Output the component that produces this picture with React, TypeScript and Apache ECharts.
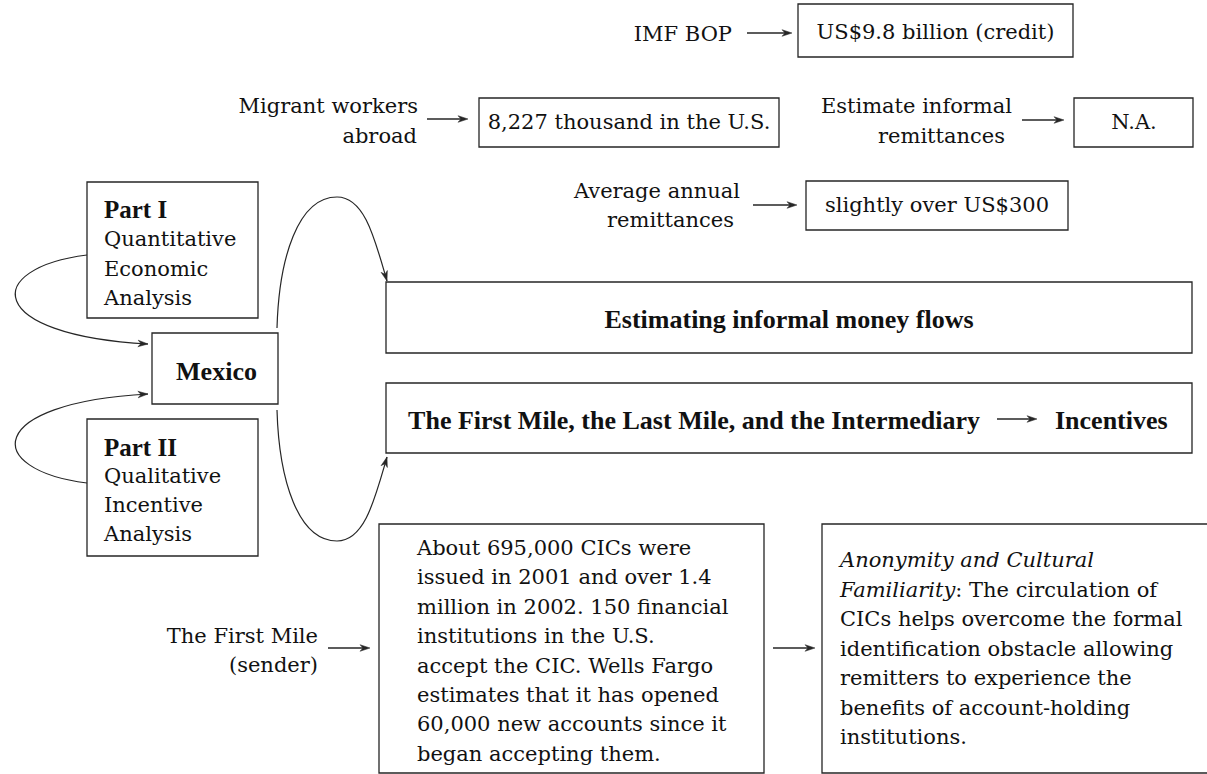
import React, { useEffect, useRef } from "react";
import * as echarts from "echarts";

// ---------- content ----------
const sourceLabels: string[][] = [
  ["IMF BOP"],
  ["Migrant workers", "abroad"],
  ["Estimate informal", "remittances"],
  ["Average annual", "remittances"],
];
const sourceValues: string[] = [
  "US$9.8 billion (credit)",
  "8,227 thousand in the U.S.",
  "N.A.",
  "slightly over US$300",
];
const partTitles: string[] = ["Part I", "Part II"];
const partLines: string[][] = [
  ["Quantitative", "Economic", "Analysis"],
  ["Qualitative", "Incentive", "Analysis"],
];
const hubLabel = "Mexico";
const themeTitles: string[] = [
  "Estimating informal money flows",
  "The First Mile, the Last Mile, and the Intermediary",
];
const themeOutcome = "Incentives";
const firstMileLabel: string[] = ["The First Mile", "(sender)"];
const cicLines: string[] = [
  "About 695,000 CICs were",
  "issued in 2001 and over 1.4",
  "million in 2002. 150 financial",
  "institutions in the U.S.",
  "accept the CIC. Wells Fargo",
  "estimates that it has opened",
  "60,000 new accounts since it",
  "began accepting them.",
];
const anonymityLines: string[] = [
  "{i|Anonymity and Cultural}",
  "{i|Familiarity}{n|: The circulation of}",
  "{n|CICs helps overcome the formal}",
  "{n|identification obstacle allowing}",
  "{n|remitters to experience the}",
  "{n|benefits of account-holding}",
  "{n|institutions.}",
];

// ---------- styles ----------
const REG = '"DejaVu Serif", serif';
const BOLD = '"Liberation Serif", serif';
const INK = "#111111";
const LINE = "#262626";
const FS = 21;

function box(x1: number, y1: number, x2: number, y2: number) {
  return {
    type: "rect",
    shape: { x: x1, y: y1, width: x2 - x1, height: y2 - y1 },
    style: { fill: "none", stroke: LINE, lineWidth: 1.3 },
  };
}

function txt(
  text: string,
  x: number,
  y: number,
  align: string = "left",
  opt: any = {}
) {
  return {
    type: "text",
    x,
    y,
    style: {
      text,
      fill: INK,
      fontFamily: opt.family || REG,
      fontSize: opt.size || FS,
      fontWeight: opt.weight || "normal",
      fontStyle: opt.style || "normal",
      align,
      textAlign: align,
      verticalAlign: "middle",
      textVerticalAlign: "middle",
      rich: opt.rich,
    },
  };
}

function head(tx: number, ty: number, dx: number, dy: number) {
  const len = Math.hypot(dx, dy);
  const ux = dx / len;
  const uy = dy / len;
  const nx = -uy;
  const ny = ux;
  const L = 10;
  const W = 3.3;
  const N = 7;
  return {
    type: "polygon",
    shape: {
      points: [
        [tx, ty],
        [tx - ux * L + nx * W, ty - uy * L + ny * W],
        [tx - ux * N, ty - uy * N],
        [tx - ux * L - nx * W, ty - uy * L - ny * W],
      ],
    },
    style: { fill: LINE, stroke: LINE, lineWidth: 0.5 },
  };
}

function arrow(x1: number, y1: number, x2: number, y2: number) {
  const dx = x2 - x1;
  const dy = y2 - y1;
  const len = Math.hypot(dx, dy);
  return [
    {
      type: "line",
      shape: { x1, y1, x2: x2 - (dx / len) * 6, y2: y2 - (dy / len) * 6 },
      style: { stroke: LINE, lineWidth: 1.3 },
    },
    head(x2, y2, dx, dy),
  ];
}

function curve(p0: number[], c1: number[], c2: number[], p3: number[], withHead = true) {
  const els: any[] = [
    {
      type: "bezierCurve",
      shape: {
        x1: p0[0],
        y1: p0[1],
        cpx1: c1[0],
        cpy1: c1[1],
        cpx2: c2[0],
        cpy2: c2[1],
        x2: p3[0],
        y2: p3[1],
      },
      style: { stroke: LINE, fill: "none", lineWidth: 1.2 },
    },
  ];
  if (withHead) els.push(head(p3[0], p3[1], p3[0] - c2[0], p3[1] - c2[1]));
  return els;
}

function buildElements() {
  const els: any[] = [];

  // ---- top: source estimates ----
  els.push(txt(sourceLabels[0][0], 732, 34, "right"));
  els.push(...arrow(747, 33, 792, 33));
  els.push(box(798, 4, 1073, 57));
  els.push(txt(sourceValues[0], 935.5, 32, "center"));

  els.push(txt(sourceLabels[1][0], 418, 106, "right"));
  els.push(txt(sourceLabels[1][1], 417, 136, "right"));
  els.push(...arrow(427, 119, 468, 119));
  els.push(box(479, 98, 779, 147));
  els.push(txt(sourceValues[1], 629, 122, "center"));

  els.push(txt(sourceLabels[2][0], 1012, 106, "right"));
  els.push(txt(sourceLabels[2][1], 1005, 136, "right"));
  els.push(...arrow(1022, 120, 1064, 120));
  els.push(box(1074, 98, 1193, 147));
  els.push(txt(sourceValues[2], 1134, 122, "center"));

  els.push(txt(sourceLabels[3][0], 740, 191, "right"));
  els.push(txt(sourceLabels[3][1], 734, 220, "right"));
  els.push(...arrow(753, 205, 797, 205));
  els.push(box(806, 181, 1068, 230));
  els.push(txt(sourceValues[3], 937, 205, "center"));

  // ---- left: parts and hub ----
  els.push(box(87, 182, 258, 318));
  els.push(txt(partTitles[0], 104, 209, "left", { family: BOLD, size: 25, weight: "bold" }));
  partLines[0].forEach((l, i) => els.push(txt(l, 104, 239 + i * 29.5, "left")));

  els.push(box(87, 419, 258, 556));
  els.push(txt(partTitles[1], 104, 447, "left", { family: BOLD, size: 25, weight: "bold" }));
  partLines[1].forEach((l, i) => els.push(txt(l, 104, 476 + i * 29, "left")));

  els.push(box(152, 333, 278, 404));
  els.push(txt(hubLabel, 216.5, 371, "center", { family: BOLD, size: 26, weight: "bold" }));

  els.push(...curve([87, 255], [-17, 268], [-17, 335], [148, 344]));
  els.push(...curve([87, 483], [-17, 470], [-17, 403], [148, 394]));

  // big arcs from Mexico to the theme boxes (two segments each)
  els.push(...curve([277, 328], [279, 258], [298, 197], [337, 197], false));
  els.push(...curve([337, 197], [365, 197], [375, 240], [387, 281]));
  els.push(...curve([277, 410], [279, 480], [298, 541], [337, 541], false));
  els.push(...curve([337, 541], [365, 541], [375, 498], [387, 457]));

  // ---- middle theme boxes ----
  els.push(box(386, 282, 1192, 353));
  els.push(txt(themeTitles[0], 789, 319, "center", { family: BOLD, size: 26, weight: "bold" }));

  els.push(box(386, 383, 1192, 453));
  els.push(txt(themeTitles[1], 980, 420, "right", { family: BOLD, size: 26, weight: "bold" }));
  els.push(...arrow(997, 419, 1037, 419));
  els.push(txt(themeOutcome, 1055, 420, "left", { family: BOLD, size: 26, weight: "bold" }));

  // ---- bottom: first mile ----
  els.push(txt(firstMileLabel[0], 318, 636, "right"));
  els.push(txt(firstMileLabel[1], 318, 665, "right"));
  els.push(...arrow(328, 648, 370, 648));

  els.push(box(379, 524, 764, 773));
  cicLines.forEach((l, i) => els.push(txt(l, 417, 548 + i * 29.4, "left")));

  els.push(...arrow(773, 648, 815, 648));

  els.push(box(822, 524, 1215, 773));
  const rich = {
    i: { fontFamily: REG, fontSize: FS, fontStyle: "italic", fill: INK },
    n: { fontFamily: REG, fontSize: FS, fontStyle: "normal", fill: INK },
  };
  anonymityLines.forEach((l, i) =>
    els.push(txt(l, 840, 560 + i * 29.5, "left", { rich }))
  );

  return els;
}

export default function App() {
  const ref = useRef<HTMLDivElement>(null);
  useEffect(() => {
    document.body.style.margin = "0";
    if (!ref.current) return;
    const chart = echarts.init(ref.current, undefined, { renderer: "svg" });
    chart.setOption({
      animation: false,
      backgroundColor: "#ffffff",
      graphic: { elements: buildElements() },
    });
    return () => chart.dispose();
  }, []);
  return (
    <div
      ref={ref}
      style={{ position: "absolute", left: 0, top: 0, width: 1207, height: 774 }}
    />
  );
}
